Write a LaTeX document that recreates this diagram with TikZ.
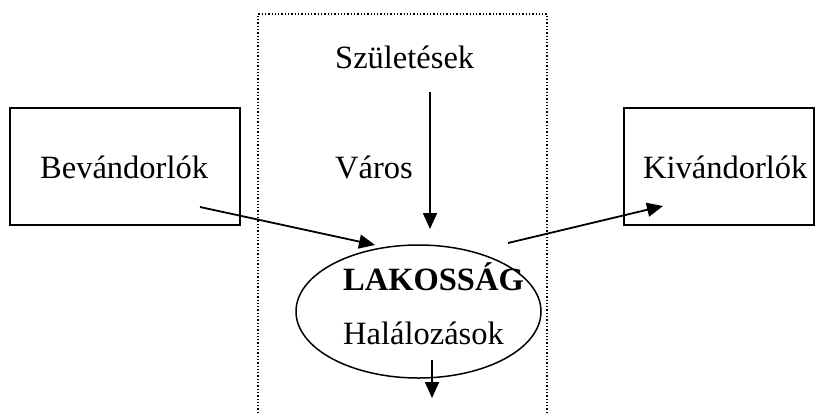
\documentclass[tikz,border=0pt]{standalone}
\usepackage{fontspec}
\setmainfont{Liberation Serif}
\usetikzlibrary{arrows.meta,shapes.geometric}
\begin{document}
\begin{tikzpicture}[x=1pt,y=-1pt,
  lbl/.style={anchor=base west,inner sep=0pt,font=\fontsize{32.5}{39}\selectfont},
  boxstyle/.style={draw,line width=1.8pt},
  flow/.style={line width=1.8pt,-{Triangle[length=16pt,width=14pt]}}]
\useasboundingbox (0,0) rectangle (824,413);
% dotted region
\draw[dotted,line width=1.3pt] (258,413) -- (258,14) -- (547,14) -- (547,413);
% boxes
\node[boxstyle,minimum width=230pt,minimum height=117pt,inner sep=0pt] (bbox) at (125,166.5) {};
\node[boxstyle,minimum width=190pt,minimum height=117pt,inner sep=0pt] (kbox) at (719,166.5) {};
\node[draw,line width=1.5pt,ellipse,minimum width=245pt,minimum height=133pt,inner sep=0pt] (lak) at (418.5,311.5) {};
% texts
\node[lbl] (szul) at (335,68) {Születések};
\node[lbl] (bev) at (40,178) {Bevándorlók};
\node[lbl] (var) at (335,178) {Város};
\node[lbl] (kiv) at (643,178) {Kivándorlók};
\node[lbl,font=\fontsize{32.5}{39}\selectfont\bfseries] (lakt) at (343,290) {LAKOSSÁG};
\node[lbl] (hal) at (343,344) {Halálozások};
% connector ends
\coordinate (a1) at (200,207);
\coordinate (a2) at (375,245);
\coordinate (b1) at (508,243);
\coordinate (b2) at (663,206);
\coordinate (c1) at (430,92);
\coordinate (c2) at (430,229);
\coordinate (d1) at (432,360);
\coordinate (d2) at (432,398);
\draw[flow] (a1) -- (a2);
\draw[flow] (b1) -- (b2);
\draw[flow] (c1) -- (c2);
\draw[flow] (d1) -- (d2);
\end{tikzpicture}
\end{document}
